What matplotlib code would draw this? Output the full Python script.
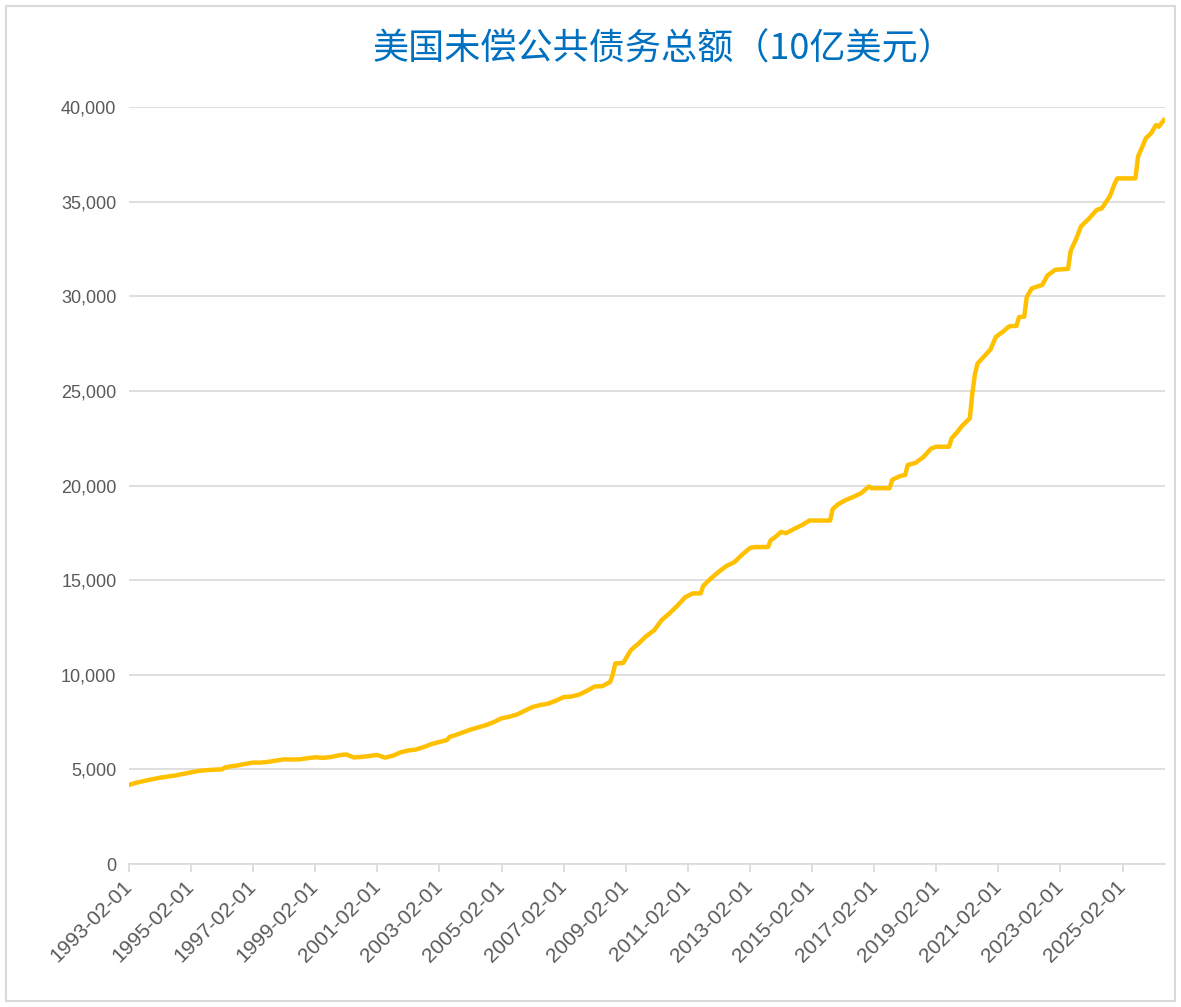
import matplotlib

matplotlib.use("Agg")
import matplotlib.pyplot as plt
import pandas as pd
from matplotlib.patches import Rectangle
from matplotlib.ticker import FuncFormatter

plt.rcParams["font.family"] = ["Liberation Sans", "Noto Sans CJK SC", "DejaVu Sans"]

# total public debt outstanding, billions USD
months = [
    "1993-02", "1993-05", "1993-08", "1993-11", "1994-02", "1994-05", "1994-08", "1994-11",
    "1995-02", "1995-05", "1995-08", "1995-11", "1996-02", "1996-03", "1996-05", "1996-08",
    "1996-11", "1997-02", "1997-05", "1997-08", "1997-11", "1998-02", "1998-05", "1998-08",
    "1998-11", "1999-02", "1999-05", "1999-08", "1999-11", "2000-02", "2000-05", "2000-08",
    "2000-11", "2001-02", "2001-05", "2001-08", "2001-11", "2002-02", "2002-05", "2002-08",
    "2002-11", "2003-02", "2003-05", "2003-06", "2003-08", "2003-11", "2004-02", "2004-05",
    "2004-08", "2004-11", "2005-02", "2005-05", "2005-08", "2005-11", "2006-02", "2006-05",
    "2006-08", "2006-11", "2007-02", "2007-05", "2007-08", "2007-11", "2008-02", "2008-05",
    "2008-08", "2008-09", "2008-10", "2009-01", "2009-04", "2009-07", "2009-10", "2010-01",
    "2010-04", "2010-07", "2010-10", "2011-01", "2011-04", "2011-07", "2011-08", "2011-11",
    "2012-02", "2012-05", "2012-08", "2012-11", "2013-02", "2013-04", "2013-09", "2013-10",
    "2013-12", "2014-02", "2014-04", "2014-07", "2014-10", "2015-01", "2015-09", "2015-10",
    "2015-12", "2016-03", "2016-06", "2016-09", "2016-12", "2017-01", "2017-08", "2017-09",
    "2017-12", "2018-02", "2018-03", "2018-06", "2018-09", "2018-12", "2019-02", "2019-07",
    "2019-08", "2019-10", "2019-12", "2020-03", "2020-04", "2020-05", "2020-06", "2020-09",
    "2020-11", "2021-01", "2021-04", "2021-06", "2021-07", "2021-09", "2021-10", "2021-12",
    "2022-01", "2022-03", "2022-07", "2022-09", "2022-12", "2023-05", "2023-06", "2023-08",
    "2023-10", "2024-01", "2024-04", "2024-06", "2024-09", "2024-11", "2024-12", "2025-07",
    "2025-08", "2025-09", "2025-11", "2026-01", "2026-03", "2026-04", "2026-06",
]
debt = [
    4180, 4300, 4390, 4480, 4560, 4620, 4680, 4760,
    4840, 4920, 4960, 4985, 5000, 5090, 5150, 5210,
    5290, 5360, 5360, 5400, 5470, 5530, 5520, 5530,
    5590, 5640, 5610, 5650, 5740, 5790, 5630, 5660,
    5710, 5760, 5620, 5720, 5900, 6000, 6050, 6180,
    6340, 6450, 6550, 6720, 6800, 6950, 7100, 7220,
    7340, 7500, 7700, 7780, 7900, 8100, 8300, 8400,
    8470, 8630, 8820, 8850, 8950, 9150, 9380, 9400,
    9620, 10030, 10600, 10620, 11300, 11650, 12050, 12350,
    12900, 13250, 13650, 14100, 14300, 14300, 14700, 15100,
    15450, 15750, 15950, 16350, 16700, 16750, 16750, 17100,
    17300, 17550, 17480, 17700, 17900, 18150, 18150, 18750,
    19000, 19230, 19400, 19600, 19950, 19860, 19860, 20300,
    20500, 20560, 21080, 21200, 21500, 21950, 22050, 22050,
    22500, 22800, 23150, 23550, 24900, 25900, 26450, 26900,
    27200, 27850, 28150, 28390, 28430, 28430, 28900, 28920,
    29980, 30420, 30600, 31100, 31400, 31450, 32400, 33000,
    33700, 34100, 34560, 34650, 35260, 35970, 36230, 36230,
    37380, 37700, 38350, 38610, 39050, 38960, 39310,
]
tick_dates = [f"{y}-02-01" for y in range(1993, 2026, 2)]

dates = pd.to_datetime([m + "-01" for m in months])
ticks = pd.to_datetime(tick_dates)

fig = plt.figure(figsize=(11.81, 10.07), dpi=100)
ax = fig.add_axes([0.1092, 0.142, 0.8773, 0.7517])

ax.plot(dates, debt, color="#FFC000", linewidth=3.2, solid_joinstyle="round")

ax.set_ylim(0, 40000)
ax.set_yticks(range(0, 40001, 5000))
ax.yaxis.set_major_formatter(FuncFormatter(lambda v, _: f"{v:,.0f}"))
ax.set_xlim(dates[0], dates[-1] + pd.Timedelta(days=14))
ax.set_xticks(ticks)
ax.set_xticklabels(tick_dates, rotation=45, ha="right", va="center", rotation_mode="anchor")

ax.grid(axis="y", color="#D9D9D9", linewidth=1.2)
ax.set_axisbelow(True)
for side in ("top", "right", "left"):
    ax.spines[side].set_visible(False)
ax.spines["bottom"].set_color("#D9D9D9")
ax.spines["bottom"].set_linewidth(1.2)
ax.tick_params(axis="y", length=0, pad=9, labelsize=13, labelcolor="#595959")
ax.tick_params(axis="x", length=6, width=1.2, color="#D9D9D9", pad=8,
               labelsize=15, labelcolor="#595959")

fig.text(0.562, 0.951, "美国未偿公共债务总额（10亿美元）", ha="center", va="center",
         fontsize=26, color="#0070C0", family=["Noto Sans CJK SC", "DejaVu Sans"])

fig.patches.append(Rectangle((6 / 1181, 6 / 1007), 1 - 12 / 1181, 1 - 12 / 1007,
                             transform=fig.transFigure, fill=False,
                             edgecolor="#D9D9D9", linewidth=1.5))

fig.savefig("out.png", dpi=100)
